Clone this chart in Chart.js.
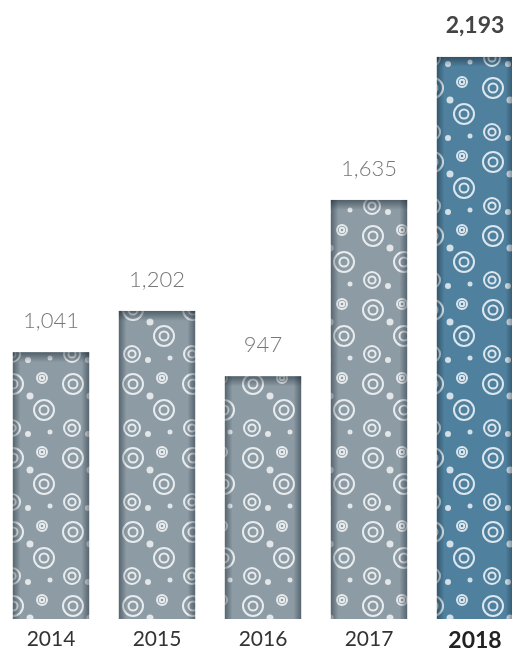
<!DOCTYPE html>
<html>
<head>
<meta charset="utf-8">
<script src="https://cdn.jsdelivr.net/npm/chart.js@4/dist/chart.umd.min.js"></script>
<style>
  html, body { margin: 0; padding: 0; background: #fff; overflow: hidden; }
  #wrap { position: absolute; left: -2px; top: 0; width: 530px; height: 652px; }
</style>
</head>
<body>
<div id="wrap"><canvas id="chart" width="530" height="652"></canvas></div>
<script>
const years = ["2014", "2015", "2016", "2017", "2018"];
const incidents = [1041, 1202, 947, 1635, 2193];
const valueLabels = ["1,041", "1,202", "947", "1,635", "2,193"];

// circle-pattern tile used as bar fill
function makeTile(base) {
  const c = document.createElement("canvas");
  c.width = 60; c.height = 74;
  const g = c.getContext("2d");
  g.fillStyle = base;
  g.fillRect(0, 0, c.width, c.height);
  g.strokeStyle = "rgba(255,255,255,0.8)";
  g.fillStyle = "rgba(255,255,255,0.75)";
  g.lineWidth = 2;
  const rings = [[15, 14, 10], [46, 40, 10], [14, 58, 8], [44, 8, 5]];
  rings.forEach(([x, y, r]) => {
    g.beginPath(); g.arc(x, y, r, 0, Math.PI * 2); g.stroke();
    g.beginPath(); g.arc(x, y, r * 0.45, 0, Math.PI * 2); g.stroke();
  });
  const dots = [[32, 26, 3.5], [30, 64, 3], [52, 62, 2.5]];
  dots.forEach(([x, y, r]) => {
    g.beginPath(); g.arc(x, y, r, 0, Math.PI * 2); g.fill();
  });
  return g.createPattern(c, "repeat");
}

const ctx = document.getElementById("chart").getContext("2d");
const greyFill = makeTile("#8c9ba4");
const blueFill = makeTile("#4f819f");

const barDecor = {
  id: "barDecor",
  afterDatasetsDraw(chart) {
    const c = chart.ctx;
    const meta = chart.getDatasetMeta(0);
    meta.data.forEach((bar, i) => {
      const left = bar.x - bar.width / 2;
      const right = bar.x + bar.width / 2;
      const gr = c.createLinearGradient(left, 0, right, 0);
      gr.addColorStop(0, "rgba(20,35,45,0.45)");
      gr.addColorStop(0.1, "rgba(20,35,45,0)");
      gr.addColorStop(0.9, "rgba(20,35,45,0)");
      gr.addColorStop(1, "rgba(20,35,45,0.45)");
      c.save();
      c.fillStyle = gr;
      c.fillRect(left, bar.y, bar.width, bar.base - bar.y);
      const gt = c.createLinearGradient(0, bar.y, 0, bar.y + 10);
      gt.addColorStop(0, "rgba(20,35,45,0.5)");
      gt.addColorStop(1, "rgba(20,35,45,0)");
      c.fillStyle = gt;
      c.fillRect(left, bar.y, bar.width, 10);
      // value label
      const last = i === meta.data.length - 1;
      c.font = last ? "bold 23px Lato" : "300 22px Lato";
      c.fillStyle = last ? "#444" : "#777";
      c.textAlign = "center";
      c.textBaseline = "middle";
      c.fillText(valueLabels[i], bar.x, bar.y - 31);
      c.restore();
    });
  }
};

new Chart(ctx, {
  type: "bar",
  data: {
    labels: years,
    datasets: [{
      data: incidents,
      backgroundColor: incidents.map((v, i) => i === incidents.length - 1 ? blueFill : greyFill),
      borderWidth: 0,
      categoryPercentage: 1,
      barPercentage: 0.72
    }]
  },
  options: {
    responsive: false,
    animation: false,
    layout: { padding: 0 },
    plugins: {
      legend: { display: false },
      tooltip: { enabled: false }
    },
    scales: {
      x: {
        grid: { display: false, drawTicks: false },
        border: { display: false },
        afterFit(scale) { scale.height = 33; },
        ticks: {
          padding: 8,
          color: ctx => ctx.index === 4 ? "#222" : "#333",
          font: ctx => ctx.index === 4
            ? { family: "Lato", size: 23, weight: "bold" }
            : { family: "Lato", size: 21, weight: "normal" }
        }
      },
      y: {
        display: false,
        min: 0,
        max: 2415
      }
    }
  },
  plugins: [barDecor]
});
</script>
</body>
</html>
